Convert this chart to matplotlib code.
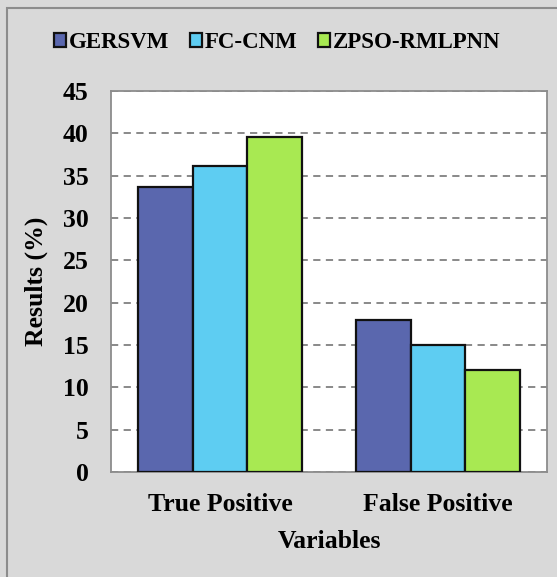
import matplotlib.pyplot as plt
import numpy as np
from matplotlib.patches import Rectangle

plt.rcParams['font.family'] = ['Liberation Serif', 'DejaVu Serif']
plt.rcParams['font.weight'] = 'bold'

variables = ['True Positive', 'False Positive']
methods = ['GERSVM', 'FC-CNM', 'ZPSO-RMLPNN']
gersvm = [33.7, 18.0]
fc_cnm = [36.2, 15.0]
zpso_rmlpnn = [39.6, 12.1]
colors = ['#5a67ae', '#5ecdf2', '#a8e952']

fig = plt.figure(figsize=(5.57, 5.77), dpi=100)
fig.patch.set_facecolor('#d9d9d9')

# outer frame of the chart area
fig.patches.append(Rectangle((7 / 557, -0.1), 1.2, 1.1 - 8 / 577,
                             transform=fig.transFigure, fill=False,
                             edgecolor='#8c8c8c', linewidth=1.5))

ax = fig.add_axes([111 / 557, 1 - 472 / 577, (547 - 111) / 557, (472 - 91) / 577])
ax.set_facecolor('white')

x = np.arange(len(variables))
width = 0.25
for i, (vals, name) in enumerate(zip([gersvm, fc_cnm, zpso_rmlpnn], methods)):
    ax.bar(x + (i - 1) * width, vals, width, color=colors[i], edgecolor='#111111',
           linewidth=1.6, label=name, zorder=3)

ax.set_xlim(-0.5, 1.5)
ax.set_ylim(0, 45)
ax.set_yticks(range(0, 46, 5))
ax.set_xticks(x)
ax.set_xticklabels(variables)
ax.yaxis.grid(True, linestyle=(0, (4, 3)), color='#808080', linewidth=1.3, zorder=0)
ax.tick_params(length=0, labelsize=18.5)
ax.tick_params(axis='y', pad=16)
ax.tick_params(axis='x', pad=15)
for s in ax.spines.values():
    s.set_color('#8c8c8c')
    s.set_linewidth(1.3)

ax.set_xlabel('Variables', fontsize=18.5, fontweight='bold', labelpad=10)
ax.set_ylabel('Results (%)', fontsize=18.5, fontweight='bold', labelpad=11)

fig.legend(loc='center', bbox_to_anchor=(277 / 557, 1 - 43 / 577), ncol=3,
           frameon=False, fontsize=16.5, handlelength=0.55, handleheight=0.55,
           handletextpad=0.1, columnspacing=0.9)

fig.savefig('out.png', dpi=100, facecolor=fig.get_facecolor())
